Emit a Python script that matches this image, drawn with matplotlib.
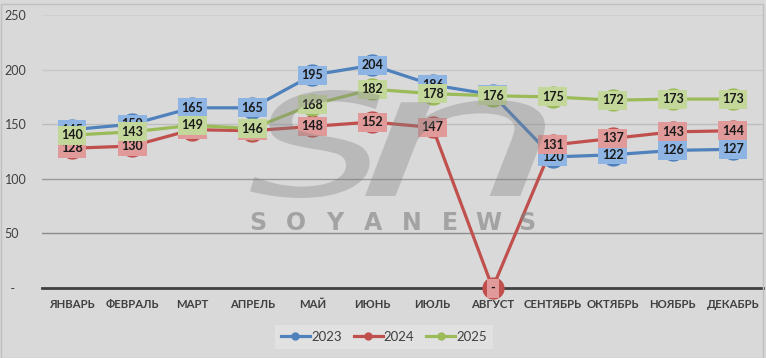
import matplotlib
matplotlib.use('Agg')
import matplotlib.pyplot as plt
from matplotlib.textpath import TextPath
from matplotlib.patches import PathPatch, Rectangle
from matplotlib.font_manager import FontProperties
from matplotlib.transforms import Affine2D
from matplotlib.lines import Line2D

months = ['ЯНВАРЬ', 'ФЕВРАЛЬ', 'МАРТ', 'АПРЕЛЬ', 'МАЙ', 'ИЮНЬ',
          'ИЮЛЬ', 'АВГУСТ', 'СЕНТЯБРЬ', 'ОКТЯБРЬ', 'НОЯБРЬ', 'ДЕКАБРЬ']
y2023 = [145, 150, 165, 165, 195, 204, 186, 177, 120, 122, 126, 127]
y2024 = [128, 130, 145, 144, 148, 152, 147, 0, 131, 137, 143, 144]
y2025 = [140, 143, 149, 146, 168, 182, 178, 176, 175, 172, 173, 173]
years = ['2023', '2024', '2025']
yticks = [0, 50, 100, 150, 200, 250]

series = [y2023, y2024, y2025]
line_colors = ['#4F81BD', '#C0504D', '#9BBB59']
box_colors = ['#8DB4E2', '#E09A99', '#C4D79B']

W, H = 766, 358
fig = plt.figure(figsize=(W / 100, H / 100), dpi=100, facecolor='#D9D9D9')
ax = fig.add_axes([42 / W, 1 - 288 / H, (763 - 42) / W, (288 - 15) / H])
ax.set_facecolor('none')

x = list(range(len(months)))
for vals, c in zip(series, line_colors):
    ax.plot(x, vals, color=c, lw=2.3, marker='o', markersize=15,
            markerfacecolor=c, markeredgecolor=c, zorder=3, clip_on=False)

# data labels drawn after all the lines, in series order
for vals, bc in zip(series, box_colors):
    for xi, v in zip(x, vals):
        ax.text(xi, v, '-' if v == 0 else str(v), ha='center', va='center',
                fontsize=9, fontweight='bold', family='Lato', color='#1A1A1A',
                bbox=dict(boxstyle='square,pad=0.28', fc=bc, ec='none'),
                zorder=5, clip_on=False)

ax.set_xlim(-0.5, len(months) - 0.5)
ax.set_ylim(0, 250)
ax.set_yticks(yticks)
ax.set_yticklabels(['  -' if t == 0 else str(t) for t in yticks],
                   family='Lato', fontsize=9, color='#404040', ha='left')
ax.tick_params(axis='y', length=0, pad=27)
ax.set_xticks(x)
ax.set_xticklabels(months, family='Lato', fontsize=8.2, fontweight='bold', color='#404040')
ax.tick_params(axis='x', length=0, pad=8)

ax.yaxis.grid(True, lw=1)
grid_cols = ['none', '#8C8C8C', '#999999', '#BDBDBD', '#C8C8C8', '#CFCFCF']
for gl, gc in zip(ax.get_ygridlines(), grid_cols):
    gl.set_color(gc)
ax.set_axisbelow(True)
for s in ['top', 'right', 'left']:
    ax.spines[s].set_visible(False)
ax.spines['bottom'].set_color('#404040')
ax.spines['bottom'].set_linewidth(2)
ax.spines['bottom'].set_zorder(2)

# watermark
fp = FontProperties(family='DejaVu Sans', style='italic')

def logo_glyph(ch, x0, x1, y0, y1):
    p = TextPath((0, 0), ch, size=100, prop=fp)
    e = p.get_extents()
    tr = Affine2D().translate(-e.x0, -e.y0).scale(
        (x1 - x0) / W / e.width, (y1 - y0) / H / e.height).translate(x0 / W, 1 - y1 / H)
    fig.patches.append(PathPatch(tr.transform_path(p), transform=fig.transFigure,
                                 fc='#808080', ec='none', alpha=0.35, zorder=10))

logo_glyph('S', 250, 380, 90, 198)
logo_glyph('n', 365, 545, 100, 196)
for i, ch in enumerate('SOYANEWS'):
    fig.text((258 + i * 38.4) / W, 1 - 223 / H, ch, ha='center', va='center',
             fontsize=17, fontweight='bold', family='DejaVu Sans',
             color='#808080', alpha=0.6, zorder=10)

handles = [Line2D([], [], color=c, lw=2.3, marker='o', markersize=5) for c in line_colors]
leg = fig.legend(handles, years, loc='center', bbox_to_anchor=(384 / W, 1 - 337 / H),
                 ncol=3, frameon=True, fancybox=False, handlelength=2.2,
                 columnspacing=0.9, handletextpad=0.1, borderpad=0.45,
                 prop=FontProperties(family='Lato', size=9.5))
leg.get_frame().set_facecolor('#E4E4E4')
leg.get_frame().set_edgecolor('none')
for t in leg.get_texts():
    t.set_color('#404040')

fig.patches.append(Rectangle((0.5 / W, 0.5 / H), (W - 4) / W, (H - 4) / H,
                             transform=fig.transFigure, fill=False,
                             ec='#BFBFBF', lw=1))

fig.savefig('out.png', dpi=100, facecolor=fig.get_facecolor())
